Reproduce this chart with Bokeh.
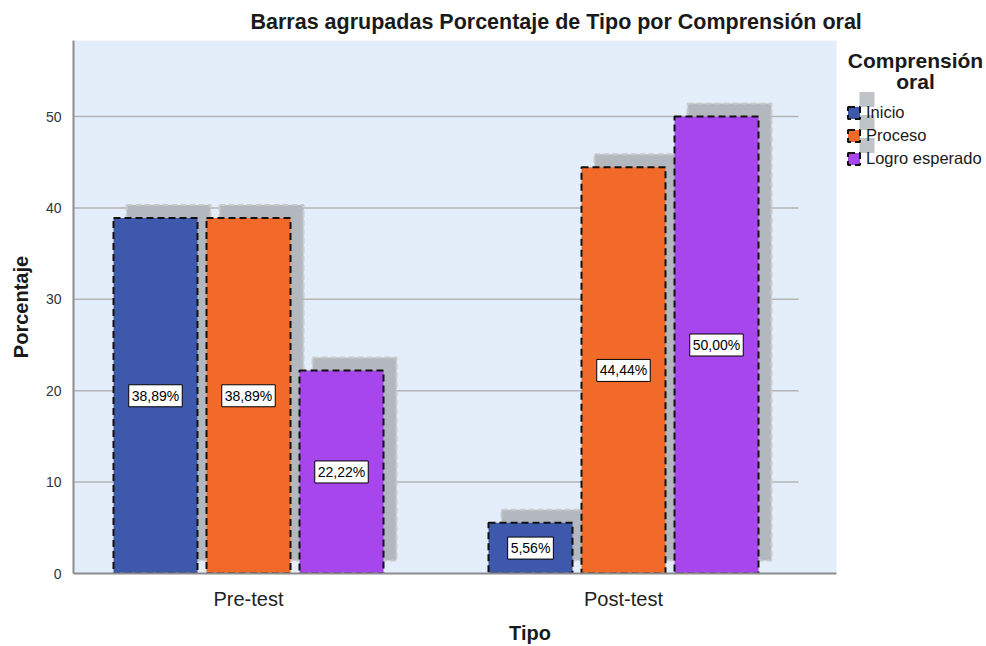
from bokeh.plotting import figure
from bokeh.models import (Range1d, FixedTicker, BoxAnnotation, ColumnDataSource,
                          Legend, LegendItem, Label)
from bokeh.embed import file_html
from bokeh.resources import INLINE
from bokeh.core.properties import value

# ---- data ----
categories = ["Pre-test", "Post-test"]
series = ["Inicio", "Proceso", "Logro esperado"]
inicio = [38.89, 5.56]
proceso = [38.89, 44.44]
logro = [22.22, 50.00]
y_ticks = [0, 10, 20, 30, 40, 50]
colors = ["#3E58AC", "#F26A2A", "#A846EE"]

FONT = "Liberation Sans"

# ---- geometry (canvas px) ----
W, H = 986, 646
FL, FT = 73, 40
FW, FH = W - FL, 533
XPX = 375.0   # px per category
YPX = 9.14    # px per percent
x_start = -175 / XPX
x_end = x_start + FW / XPX
y_end = FH / YPX
dx = 13 / XPX
dy = 13 / YPX
plot_right = 1 + 213 / XPX
grid_right = 1 + 175 / XPX
bar_w = 84 / XPX
step = 93 / XPX


def cx(px):
    return x_start + (px - FL) / XPX


def cy(py):
    return (FT + FH - py) / YPX


p = figure(width=W, height=H, output_backend="svg", toolbar_location=None,
           x_range=Range1d(x_start, x_end), y_range=Range1d(0, y_end),
           min_border_left=FL, min_border_top=FT, min_border_right=0,
           min_border_bottom=H - FT - FH)
p.outline_line_color = None
p.background_fill_color = "white"
p.border_fill_color = "white"
p.xgrid.visible = False
p.ygrid.visible = False

p.title.text = "Barras agrupadas Porcentaje de Tipo por Comprensión oral"
p.title.text_font = FONT
p.title.text_font_size = "21.5px"
p.title.text_font_style = "bold"
p.title.text_color = "#1a1a1a"
p.title.align = "left"
p.title.offset = 177
p.title.vertical_align = "top"
p.title.standoff = 10

p.add_layout(BoxAnnotation(left=x_start, right=plot_right, fill_color="#E3EEFA",
                           fill_alpha=1, line_color=None, level="underlay"))

gy = y_ticks[1:]
p.segment(x0=[x_start] * len(gy), x1=[grid_right] * len(gy), y0=gy, y1=gy,
          line_color="#B4B4B4", line_width=1.5)

vals = [inicio, proceso, logro]
sources = []
for j, v in enumerate(vals):
    xs = [i + (j - 1) * step for i in range(len(categories))]
    sources.append(ColumnDataSource(dict(
        x=xs, top=v, sx=[x + dx for x in xs], stop=[t + dy for t in v],
        mid=[t / 2 for t in v],
        lbl=[f"{t:.2f}".replace(".", ",") + "%" for t in v])))

# shadows
for src in sources:
    p.vbar(x="sx", width=bar_w, top="stop", bottom=dy, source=src,
           fill_color="#B3B8BF", line_color="#CBCBCB", line_dash="6 3", line_width=2)

bar_renderers = []
for src, c in zip(sources, colors):
    r = p.vbar(x="x", width=bar_w, top="top", bottom=0, source=src,
               fill_color=c, line_color="#111111", line_dash="7 4", line_width=2)
    bar_renderers.append(r)

for src in sources:
    p.text(x="x", y="mid", text="lbl", source=src,
           text_align="center", text_baseline="middle",
           text_font=value(FONT), text_font_size="14px",
           text_color="black", background_fill_color="white",
           border_line_color="black", border_line_width=1, padding=3)

# legend shadows
LG_L = 846
LG_T0 = FT + 62
for i in range(len(series)):
    gt = LG_T0 + 23 * i + 2.5
    p.quad(left=cx(LG_L + 13), right=cx(LG_L + 28), top=cy(gt - 13), bottom=cy(gt + 2),
           fill_color="#C0C3C7", line_color=None)

legend = Legend(items=[LegendItem(label=s, renderers=[r]) for s, r in zip(series, bar_renderers)],
                location=(LG_L - FL, FH - 62 - 66), orientation="vertical",
                padding=0, margin=0, spacing=3, glyph_width=15, glyph_height=15,
                label_height=20, label_standoff=5, label_text_font=FONT,
                label_text_font_size="16.5px", label_text_color="#1a1a1a",
                background_fill_alpha=0, border_line_alpha=0)
p.add_layout(legend)

p.add_layout(Label(x=cx(915), y=cy(60), text="Comprensión", text_align="center",
                   text_baseline="middle", text_font=FONT, text_font_size="21px",
                   text_font_style="bold", text_color="#1a1a1a"))
p.add_layout(Label(x=cx(915), y=cy(81), text="oral", text_align="center",
                   text_baseline="middle", text_font=FONT, text_font_size="21px",
                   text_font_style="bold", text_color="#1a1a1a"))

# axes
p.xaxis.ticker = FixedTicker(ticks=list(range(len(categories))))
p.xaxis.major_label_overrides = {i: c for i, c in enumerate(categories)}
p.xaxis.bounds = (x_start, plot_right)
p.xaxis.axis_label = "Tipo"
p.yaxis.ticker = FixedTicker(ticks=y_ticks)
p.yaxis.axis_label = "Porcentaje"
for ax in (p.xaxis[0], p.yaxis[0]):
    ax.axis_line_color = "#8C8C8C"
    ax.axis_line_width = 2
    ax.major_tick_line_color = None
    ax.minor_tick_line_color = None
    ax.axis_label_text_font = FONT
    ax.axis_label_text_font_size = "20px"
    ax.axis_label_text_font_style = "bold"
    ax.axis_label_text_color = "#1a1a1a"
    ax.major_label_text_font = FONT
p.xaxis.major_label_text_font_size = "20px"
p.xaxis.major_label_text_color = "#222222"
p.xaxis.major_label_standoff = 8
p.xaxis.axis_label_standoff = 9
p.yaxis.major_label_text_font_size = "14px"
p.yaxis.major_label_text_color = "#333333"
p.yaxis.major_label_standoff = 6
p.yaxis.axis_label_standoff = 11

open("out.html", "w").write(file_html(p, INLINE))
